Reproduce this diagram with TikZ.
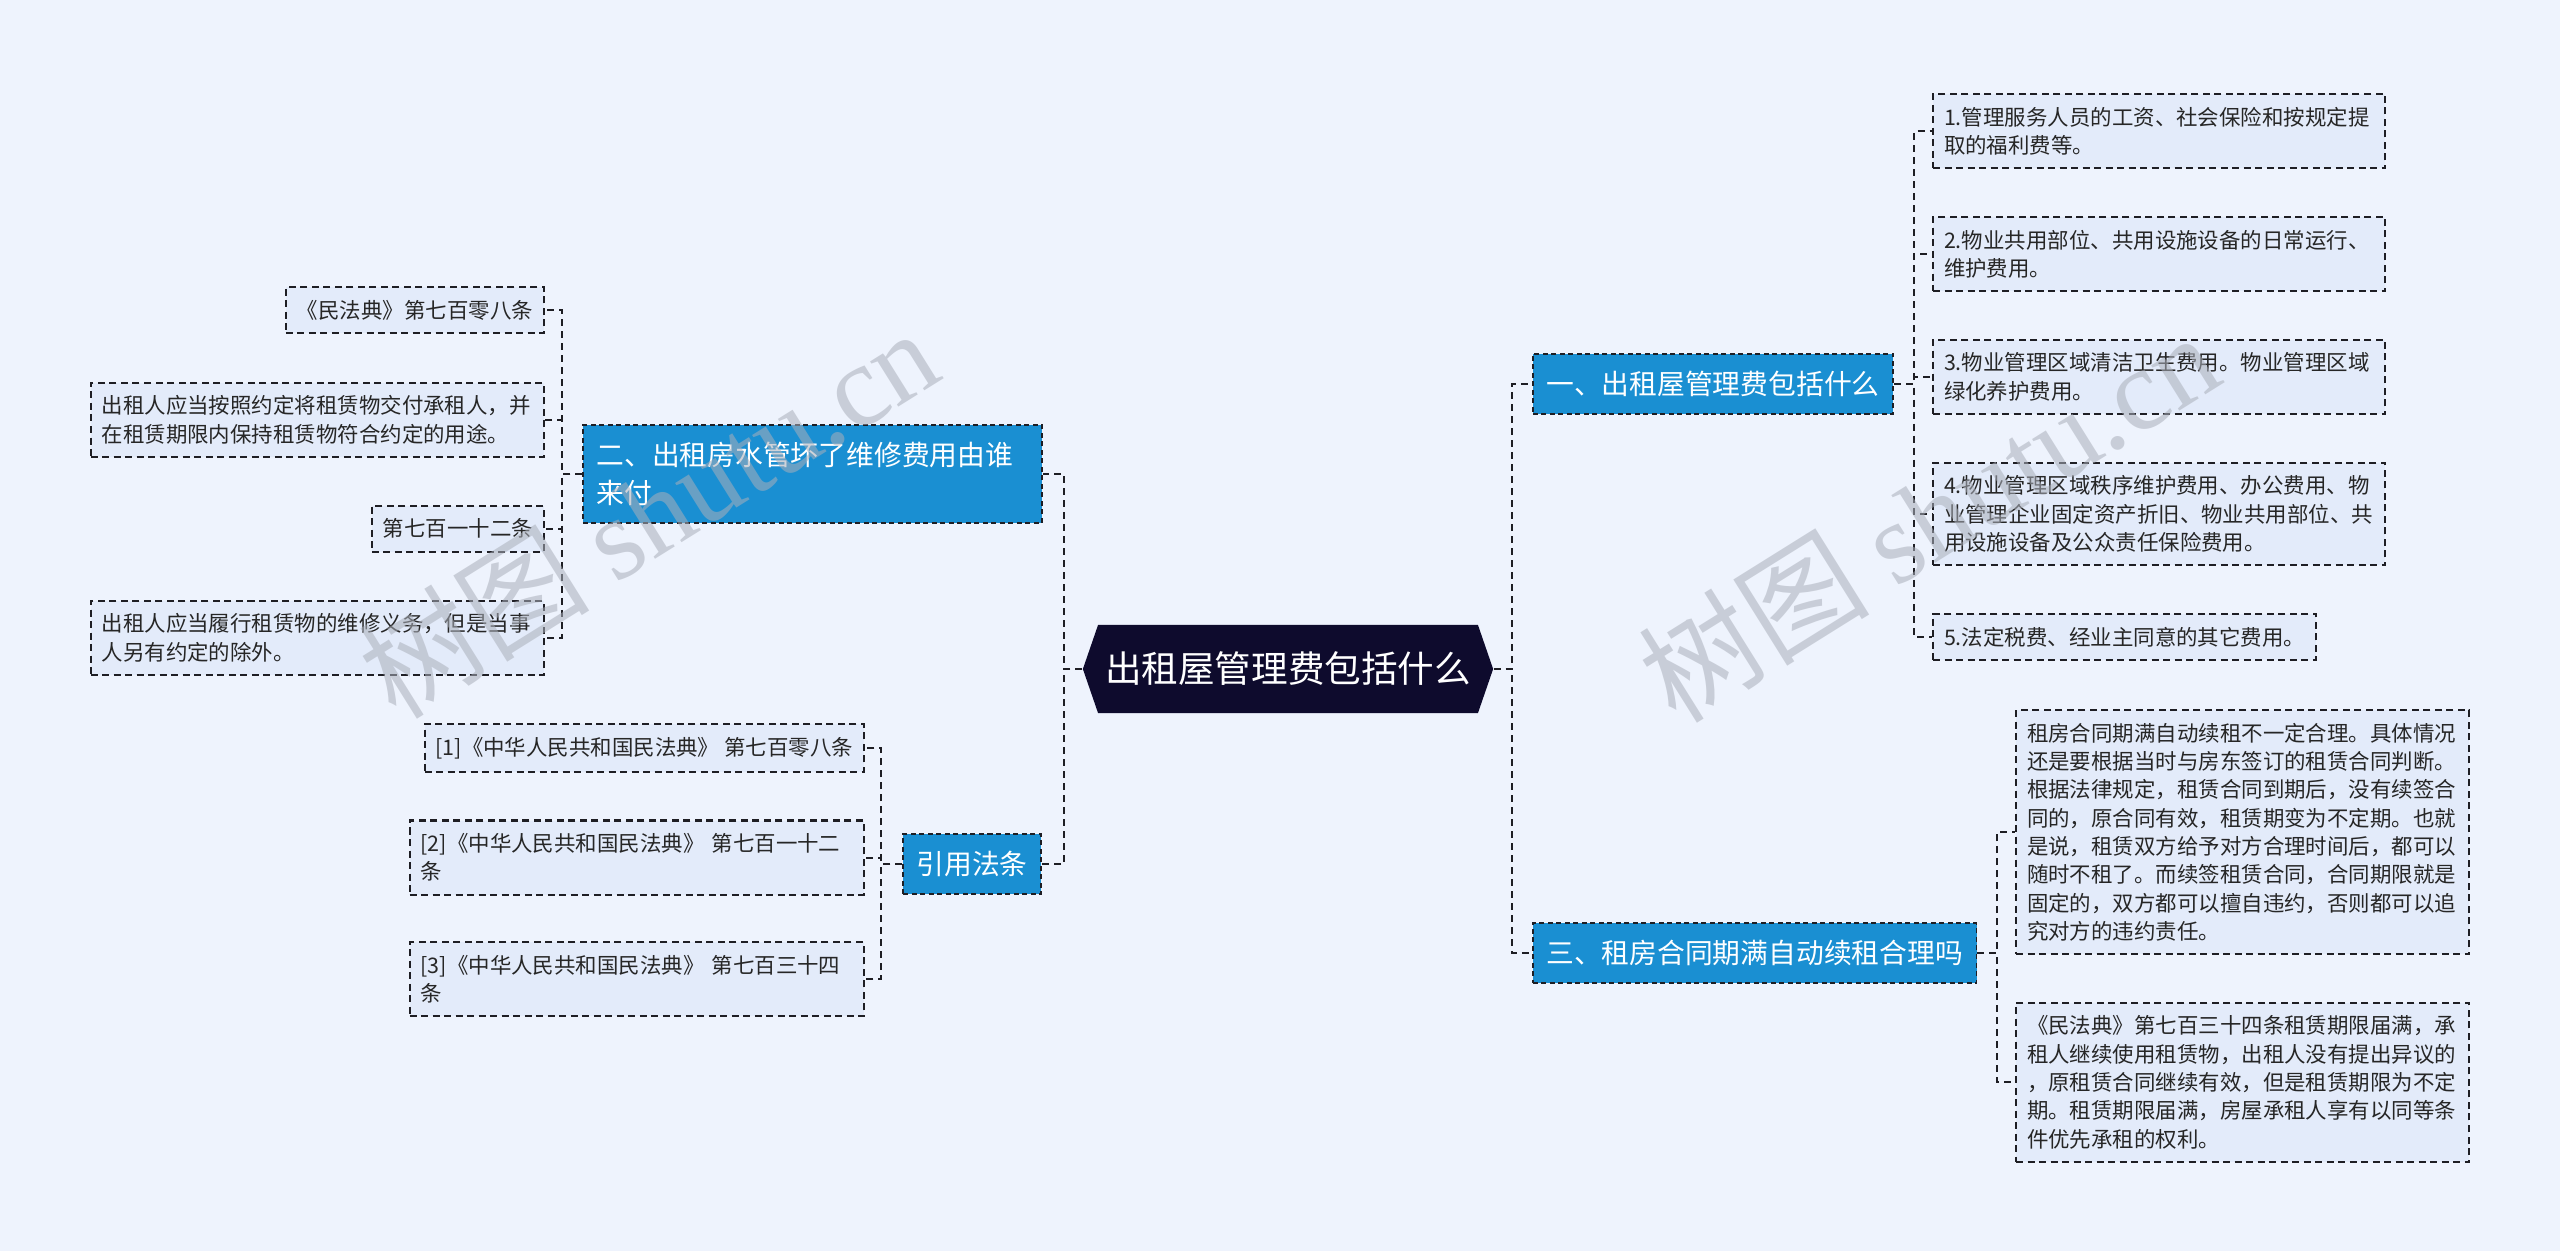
\documentclass[tikz,border=0pt]{standalone}
\usepackage{fontspec}
\setmainfont{Noto Sans CJK SC}
\newfontfamily\wmfont{Liberation Serif}
\usetikzlibrary{positioning,shapes.symbols}
\definecolor{bgblue}{RGB}{238,243,253}
\definecolor{leafblue}{RGB}{227,235,250}
\definecolor{topicblue}{RGB}{26,143,210}
\definecolor{rootnavy}{RGB}{14,11,45}
\definecolor{edgegray}{RGB}{30,30,36}
\definecolor{wmgray}{RGB}{170,175,186}
\tikzset{
    %Define style for the centre node
    root/.style={
           shape=signal,
           signal to=west and east,
           signal pointer angle=142,
           fill=rootnavy, text=white,
           minimum width=4.1cm,
           minimum height=0.88cm,
           inner sep=0pt,
           font=\fontsize{10.4pt}{12pt}\selectfont},
    %Define style for the blue boxes
    topic/.style={
           rectangle,
           draw=edgegray, fill=topicblue, text=white,
           line width=0.5pt, dash pattern=on 0.05cm off 0.035cm,
           inner xsep=0.135cm, inner ysep=0.17cm,
           align=left,
           font=\fontsize{7.9pt}{10.8pt}\selectfont},
    %Define style for the text boxes
    leaf/.style={
           rectangle,
           draw=edgegray, fill=leafblue, text=black!85,
           line width=0.6pt, dash pattern=on 0.07cm off 0.045cm,
           inner xsep=0.11cm, inner ysep=0.13cm,
           align=left,
           font=\fontsize{6.1pt}{8.05pt}\selectfont},
    % Define connector style
    link/.style={
           draw=edgegray, line width=0.6pt,
           dash pattern=on 0.07cm off 0.05cm},
    wm/.style={
           text=wmgray, text opacity=0.55, rotate=32,
           font=\fontsize{33pt}{34pt}\selectfont}
}
\begin{document}
\begin{tikzpicture}[x=0.01cm,y=-0.01cm,node distance=0.465cm]
\useasboundingbox[fill=bgblue] (0,0) rectangle (2560,1251);
 %centre
\node[root] (root) at (1288,669) {出租屋管理费包括什么};
 %main branches
\node[topic, right=0.38cm of root, yshift=2.85cm] (b1) {一、出租屋管理费包括什么};
\node[topic, right=0.38cm of root, yshift=-2.84cm] (b3) {三、租房合同期满自动续租合理吗};
\node[topic, left=0.39cm of root, yshift=1.95cm, text width=4.32cm] (b2) {二、出租房水管坏了维修费用由谁\\来付};
\node[topic, left=0.40cm of root, yshift=-1.95cm] (b4) {引用法条};
 %right leaves
\node[leaf, anchor=north west, text width=4.3cm] (r1) at (1932,93) {1.管理服务人员的工资、社会保险和按规定提\\取的福利费等。};
\node[leaf, below=of r1.south west, anchor=north west, text width=4.3cm] (r2) {2.物业共用部位、共用设施设备的日常运行、\\维护费用。};
\node[leaf, below=of r2.south west, anchor=north west, text width=4.3cm] (r3) {3.物业管理区域清洁卫生费用。物业管理区域\\绿化养护费用。};
\node[leaf, below=of r3.south west, anchor=north west, text width=4.3cm] (r4) {4.物业管理区域秩序维护费用、办公费用、物\\业管理企业固定资产折旧、物业共用部位、共\\用设施设备及公众责任保险费用。};
\node[leaf, below=of r4.south west, anchor=north west] (r5) {5.法定税费、经业主同意的其它费用。};
\node[leaf, anchor=north west, text width=4.31cm] (t1) at (2015,709) {租房合同期满自动续租不一定合理。具体情况\\还是要根据当时与房东签订的租赁合同判断。\\根据法律规定，租赁合同到期后，没有续签合\\同的，原合同有效，租赁期变为不定期。也就\\是说，租赁双方给予对方合理时间后，都可以\\随时不租了。而续签租赁合同，合同期限就是\\固定的，双方都可以擅自违约，否则都可以追\\究对方的违约责任。};
\node[leaf, below=of t1.south west, anchor=north west, text width=4.31cm] (t2) {《民法典》第七百三十四条租赁期限届满，承\\租人继续使用租赁物，出租人没有提出异议的\\，原租赁合同继续有效，但是租赁期限为不定\\期。租赁期限届满，房屋承租人享有以同等条\\件优先承租的权利。};
 %left leaves
\node[leaf, anchor=north east] (l1) at (545,286) {《民法典》第七百零八条};
\node[leaf, below=0.475cm of l1.south east, anchor=north east, text width=4.31cm] (l2) {出租人应当按照约定将租赁物交付承租人，并\\在租赁期限内保持租赁物符合约定的用途。};
\node[leaf, below=of l2.south east, anchor=north east] (l3) {第七百一十二条};
\node[leaf, below=0.47cm of l3.south east, anchor=north east, text width=4.31cm] (l4) {出租人应当履行租赁物的维修义务，但是当事\\人另有约定的除外。};
\node[leaf, anchor=north east] (c1) at (865,723) {[1]《中华人民共和国民法典》 第七百零八条};
\node[leaf, below=of c1.south east, anchor=north east, text width=4.32cm] (c2) {[2]《中华人民共和国民法典》 第七百一十二\\条};
\node[leaf, below=0.455cm of c2.south east, anchor=north east, text width=4.32cm] (c3) {[3]《中华人民共和国民法典》 第七百三十四\\条};
 %connectors
\draw[link] (root.east) -- ++(18,0) |- (b1.west);
\draw[link] (root.east) -- ++(18,0) |- (b3.west);
\draw[link] (root.west) -- ++(-18,0) |- (b2.east);
\draw[link] (root.west) -- ++(-18,0) |- (b4.east);
\foreach \n in {r1,r2,r3,r4,r5}
    \draw[link] (b1.east) -- ++(20,0) |- (\n.west);
\foreach \n in {t1,t2}
    \draw[link] (b3.east) -- ++(20,0) |- (\n.west);
\foreach \n in {l1,l2,l3,l4}
    \draw[link] (b2.west) -- ++(-20,0) |- (\n.east);
\foreach \n in {c1,c2,c3}
    \draw[link] (b4.west) -- ++(-21,0) |- (\n.east);
 %watermarks
\node[wm] (wm1) at (648,512) {树图 {\wmfont shutu.cn}};
\node[wm] (wm2) at (1928,516) {树图 {\wmfont shutu.cn}};
\end{tikzpicture}
\end{document}
